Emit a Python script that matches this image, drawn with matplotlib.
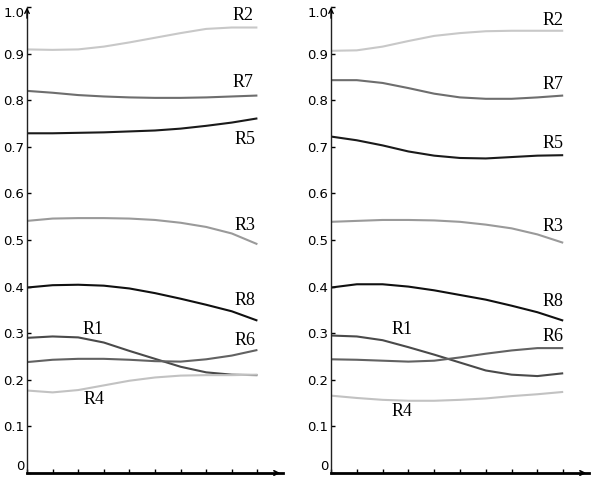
import matplotlib
matplotlib.use('Agg')
import matplotlib.pyplot as plt
import numpy as np

# ── Data (x = 0..9) ────────────────────────────────────────────────
x_steps = np.arange(10)
series_names = ['R1', 'R2', 'R3', 'R4', 'R5', 'R6', 'R7', 'R8']

left_r1 = [0.290, 0.293, 0.291, 0.280, 0.262, 0.245, 0.228, 0.216, 0.211, 0.210]
left_r2 = [0.909, 0.908, 0.909, 0.915, 0.924, 0.934, 0.944, 0.953, 0.956, 0.956]
left_r3 = [0.541, 0.546, 0.547, 0.547, 0.546, 0.543, 0.537, 0.528, 0.514, 0.491]
left_r4 = [0.177, 0.173, 0.178, 0.188, 0.198, 0.205, 0.209, 0.210, 0.210, 0.211]
left_r5 = [0.729, 0.729, 0.730, 0.731, 0.733, 0.735, 0.739, 0.745, 0.752, 0.761]
left_r6 = [0.238, 0.243, 0.245, 0.245, 0.243, 0.240, 0.239, 0.244, 0.252, 0.264]
left_r7 = [0.820, 0.816, 0.811, 0.808, 0.806, 0.805, 0.805, 0.806, 0.808, 0.810]
left_r8 = [0.398, 0.403, 0.404, 0.402, 0.396, 0.386, 0.374, 0.361, 0.347, 0.327]

right_r1 = [0.295, 0.293, 0.285, 0.270, 0.254, 0.237, 0.220, 0.211, 0.208, 0.214]
right_r2 = [0.906, 0.907, 0.915, 0.927, 0.938, 0.944, 0.948, 0.949, 0.949, 0.949]
right_r3 = [0.539, 0.541, 0.543, 0.543, 0.542, 0.539, 0.533, 0.525, 0.512, 0.494]
right_r4 = [0.166, 0.161, 0.157, 0.155, 0.155, 0.157, 0.160, 0.165, 0.169, 0.174]
right_r5 = [0.722, 0.714, 0.703, 0.690, 0.681, 0.676, 0.675, 0.678, 0.681, 0.682]
right_r6 = [0.244, 0.243, 0.241, 0.239, 0.241, 0.248, 0.256, 0.263, 0.268, 0.268]
right_r7 = [0.843, 0.843, 0.837, 0.826, 0.814, 0.806, 0.803, 0.803, 0.806, 0.810]
right_r8 = [0.398, 0.405, 0.405, 0.400, 0.392, 0.382, 0.372, 0.359, 0.345, 0.327]

y_ticks = [0, 0.1, 0.2, 0.3, 0.4, 0.5, 0.6, 0.7, 0.8, 0.9, 1.0]
y_tick_labels = ['0', '0.1', '0.2', '0.3', '0.4', '0.5', '0.6', '0.7', '0.8', '0.9', '1.0']

# ── Styles and label placement ─────────────────────────────────────
COLORS = {
    'R1': '#4a4a4a', 'R2': '#c8c8c8', 'R3': '#9a9a9a', 'R4': '#c2c2c2',
    'R5': '#1a1a1a', 'R6': '#626262', 'R7': '#6e6e6e', 'R8': '#101010',
}
LEFT_LABELS = {
    'R1': (2.6, 0.307), 'R2': (8.45, 0.981), 'R3': (8.5, 0.532), 'R4': (2.6, 0.157),
    'R5': (8.5, 0.715), 'R6': (8.5, 0.285), 'R7': (8.45, 0.837), 'R8': (8.5, 0.371),
}
RIGHT_LABELS = {
    'R1': (2.75, 0.307), 'R2': (8.6, 0.972), 'R3': (8.6, 0.528), 'R4': (2.75, 0.131),
    'R5': (8.6, 0.708), 'R6': (8.6, 0.292), 'R7': (8.6, 0.833), 'R8': (8.6, 0.367),
}


def draw_panel(ax, values, label_pos):
    for name, vals in zip(series_names, values):
        ax.plot(x_steps, vals, color=COLORS[name], linewidth=1.5, solid_capstyle='butt')
        lx, ly = label_pos[name]
        ax.text(lx, ly, name, ha='center', va='center', fontsize=13,
                family='Liberation Serif', color='black')

    ax.set_xlim(0, 10)
    ax.set_ylim(0, 1.0)
    ax.set_xticks(x_steps)
    ax.set_xticklabels([])
    ax.set_yticks(y_ticks)
    ax.set_yticklabels(y_tick_labels)
    ax.tick_params(axis='x', direction='in', length=3, width=1, color='black')
    ax.tick_params(axis='y', direction='in', length=3, width=1, color='black',
                   labelsize=9.5, pad=2)
    for side in ('top', 'right'):
        ax.spines[side].set_visible(False)
    ax.spines['bottom'].set_linewidth(2.0)
    ax.spines['left'].set_linewidth(1.0)
    ax.spines['left'].set_color('#222222')
    ax.grid(False)

    # top and bottom tick labels sit a little inside the axis span
    labels = ax.get_yticklabels()
    labels[0].set_verticalalignment('bottom')
    labels[-1].set_verticalalignment('top')

    # small arrow heads at the axis ends
    ax.annotate('', xy=(1.0, 0), xytext=(0.96, 0), xycoords='axes fraction',
                arrowprops=dict(arrowstyle='->', color='black', lw=1.2,
                                mutation_scale=8), annotation_clip=False)
    ax.annotate('', xy=(0, 1.005), xytext=(0, 0.97), xycoords='axes fraction',
                arrowprops=dict(arrowstyle='->', color='black', lw=1.0,
                                mutation_scale=8), annotation_clip=False)


fig = plt.figure(figsize=(6.14, 4.82), dpi=100)
ax_left = fig.add_axes([27 / 614, 9 / 482, 256 / 614, 466 / 482])
ax_right = fig.add_axes([331 / 614, 9 / 482, 258 / 614, 466 / 482])

draw_panel(ax_left,
           [left_r1, left_r2, left_r3, left_r4, left_r5, left_r6, left_r7, left_r8],
           LEFT_LABELS)
draw_panel(ax_right,
           [right_r1, right_r2, right_r3, right_r4, right_r5, right_r6, right_r7, right_r8],
           RIGHT_LABELS)

fig.savefig('out.png', dpi=100)
plt.close(fig)
